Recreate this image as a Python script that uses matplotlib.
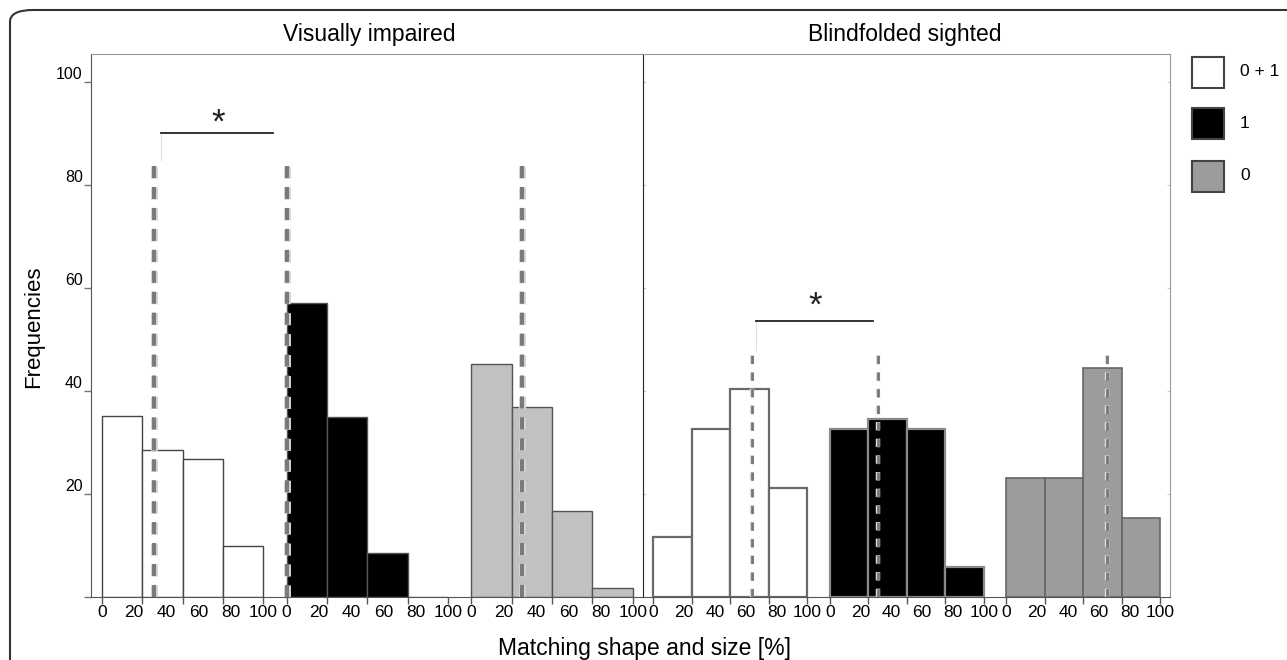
import matplotlib.pyplot as plt
import matplotlib.patheffects as pe
from matplotlib.patches import FancyBboxPatch, Rectangle

plt.rcParams['font.family'] = ['Liberation Sans', 'DejaVu Sans']

# bins of 25 % per condition, frequencies
bin_edges = [0, 25, 50, 75]
bin_width = 25
group_offset = [0, 114.5, 229]
x_labels = [0, 20, 40, 60, 80, 100]
y_ticks = [0, 20, 40, 60, 80, 100]

vi_both = [35.1, 28.5, 26.8, 10.0]
vi_one = [57.2, 35.0, 8.5, 0.0]
vi_zero = [45.3, 37.0, 16.8, 1.7]
vi_means = [32.1, 0.5, 31.1]
vi_mean_top = 84.5

bs_both = [11.7, 32.7, 40.5, 21.2]
bs_one = [32.7, 34.6, 32.7, 5.8]
bs_zero = [23.2, 23.2, 44.4, 15.4]
bs_means = [64.3, 31.3, 65.1]
bs_mean_top = 47.7

legend_labels = ['0 + 1', '1', '0']

W, H = 1287, 660
fig = plt.figure(figsize=(W / 100, H / 100), dpi=100)


def fx(px):
    return px / W


def fy(py):
    return 1 - py / H


ax1 = fig.add_axes([fx(91), fy(597), fx(643 - 91), (597 - 54) / H])
ax2 = fig.add_axes([fx(643), fy(597), fx(1170 - 643), (597 - 54) / H])

styles_vi = [dict(fc='white', ec='#444444', lw=1.0),
             dict(fc='black', ec='#555555', lw=1.0),
             dict(fc='#c1c1c1', ec='#555555', lw=1.0)]
styles_bs = [dict(fc='white', ec='#6a6a6a', lw=1.6),
             dict(fc='black', ec='#8a8a8a', lw=1.6),
             dict(fc='#9c9c9c', ec='#666666', lw=1.2)]

for ax, groups, styles, means, mtop in [
        (ax1, [vi_both, vi_one, vi_zero], styles_vi, vi_means, vi_mean_top),
        (ax2, [bs_both, bs_one, bs_zero], styles_bs, bs_means, bs_mean_top)]:
    for off, vals, st in zip(group_offset, groups, styles):
        ax.bar([off + e for e in bin_edges], vals, width=bin_width, align='edge',
               color=st['fc'], edgecolor=st['ec'], linewidth=st['lw'], zorder=2)
    for off, m in zip(group_offset, means):
        if ax is ax1:
            ax.plot([off + m, off + m], [0, mtop], color='#7a7a7a', lw=2.9,
                    dashes=(3.0, 2.2), zorder=4,
                    path_effects=[pe.Stroke(linewidth=5.0, foreground='#d4d4d4'),
                                  pe.Normal()])
        else:
            ax.plot([off + m, off + m], [0, mtop], color='#777777', lw=2.0,
                    dashes=(3.0, 3.0), zorder=4,
                    path_effects=[pe.Stroke(linewidth=3.2, foreground='#dddddd'),
                                  pe.Normal()])

    ax.set_xlim(-6.7, 335.3)
    ax.set_ylim(0, 105.5)
    ax.xaxis.remove_overlapping_locs = False
    major = [off + e for off in group_offset for e in [0, 25, 50, 75, 100]]
    minor = [off + v for off in group_offset for v in x_labels]
    ax.set_xticks(major)
    ax.set_xticklabels([''] * len(major))
    ax.set_xticks(minor, minor=True)
    ax.set_xticklabels([str(v) for v in x_labels] * 3, minor=True, fontsize=12.5)
    ax.tick_params(axis='x', which='major', length=5, width=1, color='#555555')
    ax.tick_params(axis='x', which='minor', length=0, pad=6)
    ax.spines['top'].set_color('#999999')
    ax.spines['bottom'].set_color('#555555')

ax1.set_yticks(y_ticks)
ax1.set_yticklabels([''] + [str(v) for v in y_ticks[1:]], fontsize=11.5)
ax1.tick_params(axis='y', length=5, width=1, color='#777777', pad=1)
plt.setp(ax1.get_yticklabels(), va='bottom')
ax1.spines['left'].set_color('#555555')
ax1.spines['right'].set_visible(False)
ax2.set_yticks(y_ticks)
ax2.set_yticklabels([])
ax2.tick_params(axis='y', length=2, direction='in', color='#cccccc',
                right=True)
ax2.spines['left'].set_color('#222222')
ax2.spines['right'].set_color('#999999')

# significance brackets
ax1.plot([36.7, 106.1], [90.1, 90.1], color='#222222', lw=1.3, zorder=5)
ax1.plot([36.7, 36.7], [85, 90.1], color='#e2e2e2', lw=0.8, zorder=1)
ax1.text(72.0, 92.0, '*', ha='center', va='center', fontsize=25, color='#222222')
ax2.plot([66.6, 142.6], [53.7, 53.7], color='#222222', lw=1.3, zorder=5)
ax2.plot([66.6, 66.6], [48, 53.7], color='#e2e2e2', lw=0.8, zorder=1)
ax2.text(104.9, 56.6, '*', ha='center', va='center', fontsize=25, color='#222222')

fig.text(fx(369), fy(34), 'Visually impaired', ha='center', va='center', fontsize=16.5)
fig.text(fx(905), fy(34), 'Blindfolded sighted', ha='center', va='center', fontsize=16.5)
fig.text(fx(34), fy(327), 'Frequencies', ha='center', va='center', rotation=90,
         fontsize=16)
fig.text(fx(644), fy(648), 'Matching shape and size [%]', ha='center',
         va='center', fontsize=16.5)

# legend
leg_fc = ['white', 'black', '#9c9c9c']
leg_y = [57, 108, 161]
for lab, fc, top in zip(legend_labels, leg_fc, leg_y):
    fig.add_artist(Rectangle((fx(1192), fy(top + 31)), fx(32), 31 / H,
                             facecolor=fc, edgecolor='#444444', lw=1.5,
                             transform=fig.transFigure))
    fig.text(fx(1240), fy(top + 15), lab, ha='left', va='center', fontsize=12.5)

# outer rounded frame
fig.add_artist(FancyBboxPatch((fx(10), -0.2), 1.2, fy(10) + 0.2,
                              boxstyle='round,pad=0,rounding_size=0.018',
                              facecolor='none', edgecolor='#333333', lw=1.5,
                              transform=fig.transFigure, clip_on=False))

fig.savefig('out.png', dpi=100)
